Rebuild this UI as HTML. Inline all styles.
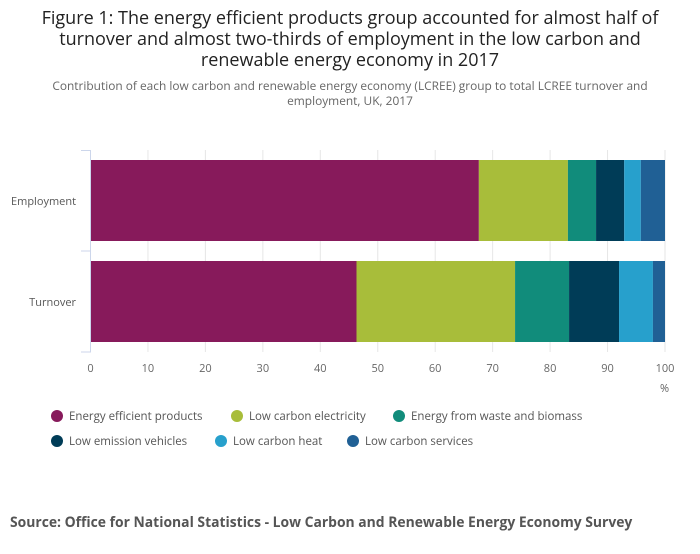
<!DOCTYPE html>
<html><head><meta charset="utf-8"><style>
body{margin:0;background:#fff;font-family:"Liberation Sans",sans-serif;}
svg text{font-family:"Open Sans","Liberation Sans",sans-serif;}
</style></head><body>
<svg id="c" width="700" height="549" xmlns="http://www.w3.org/2000/svg">
<text x="350" y="24" text-anchor="middle" font-size="18" fill="#222">Figure 1: The energy efficient products group accounted for almost half of</text>
<text x="350" y="45" text-anchor="middle" font-size="18" fill="#222">turnover and almost two-thirds of employment in the low carbon and</text>
<text x="350" y="66" text-anchor="middle" font-size="18" fill="#222">renewable energy economy in 2017</text>
<text x="350" y="90" text-anchor="middle" font-size="11.9" fill="#666">Contribution of each low carbon and renewable energy economy (LCREE) group to total LCREE turnover and</text>
<text x="350" y="105" text-anchor="middle" font-size="11.9" fill="#666">employment, UK, 2017</text>
<g id="grid"></g><g id="bars"></g><g id="axes"></g><g id="legend"></g>
<text x="10" y="527" font-size="13.9" font-weight="bold" fill="#555">Source: Office for National Statistics - Low Carbon and Renewable Energy Economy Survey</text>
</svg>
<script>
const categories=["Employment","Turnover"];
const seriesNames=["Energy efficient products","Low carbon electricity","Energy from waste and biomass","Low emission vehicles","Low carbon heat","Low carbon services"];
const employment=[67.6,15.5,4.9,4.9,2.9,4.2];
const turnover=[46.3,27.6,9.4,8.7,5.9,2.1];
const ticks=[0,10,20,30,40,50,60,70,80,90,100];
const colors=["#871A5B","#A8BD3A","#118C7B","#003C57","#27A0CC","#206095"];
const NS="http://www.w3.org/2000/svg";
const x0=90.5,x1=665;const xs=v=>x0+(x1-x0)*v/100;
const bandTop=150,bandH=101;
function mk(t,a,p){const e=document.createElementNS(NS,t);for(const k in a)e.setAttribute(k,a[k]);p.appendChild(e);return e;}
const grid=document.getElementById('grid'),bars=document.getElementById('bars'),axes=document.getElementById('axes'),leg=document.getElementById('legend');
ticks.forEach(t=>{
 if(t>0){const g=mk('line',{x1:xs(t),x2:xs(t),y1:150,y2:352,stroke:'#e6e6e6'},grid);
 
 }
 const l=mk('text',{x:xs(t),y:372,'text-anchor':'middle','font-size':11,fill:'#666'},axes);l.textContent=t;
 
 
});
const pc=mk('text',{x:660,y:392,'font-size':11,fill:'#666'},axes);pc.textContent='%';


const data=[employment,turnover];
categories.forEach((c,i)=>{
 const y=bandTop+i*bandH+10,h=81;let acc=0;
 data[i].forEach((v,j)=>{
  const r=mk('rect',{x:xs(acc),y:y,width:xs(acc+v)-xs(acc),height:h,fill:colors[j]},bars);
  
  
  acc+=v;
 });
 const t=mk('text',{x:76,y:bandTop+i*bandH+55,'text-anchor':'end','font-size':11,fill:'#555'},axes);t.textContent=c;
 
 
});
const ax=mk('path',{d:'M81,150.5H90.5V352H81M81,251H90.5',fill:'none',stroke:'#ccd6eb'},axes);


const lxRows=[[57,237,399],[57,221,353]],ly=[416,441];
seriesNames.forEach((n,j)=>{
 const r=Math.floor(j/3),x=lxRows[r][j%3],y=ly[r];
 const c=mk('circle',{cx:x,cy:y,r:6,fill:colors[j]},leg);
 
 
 const t=mk('text',{x:x+12,y:y+4,'font-size':11.5,fill:'#555'},leg);t.textContent=n;
 
 
});
</script>
</body></html>
